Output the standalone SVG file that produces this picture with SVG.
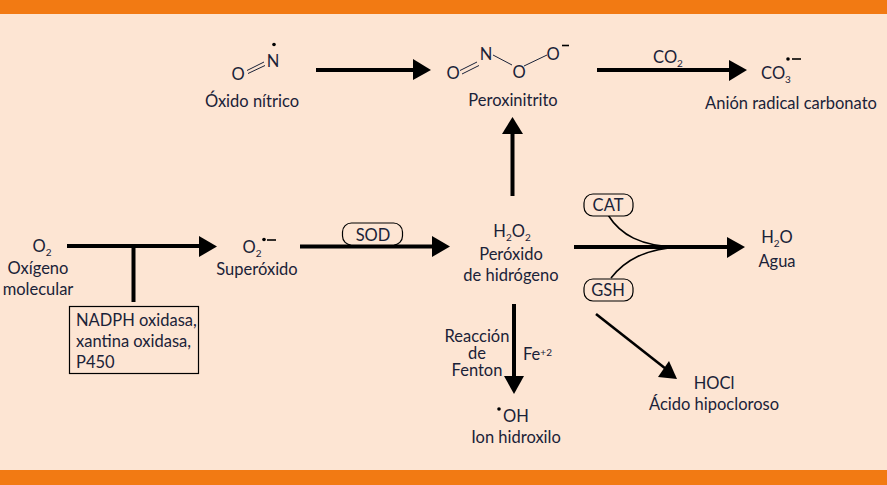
<svg xmlns="http://www.w3.org/2000/svg" width="887" height="485" viewBox="0 0 887 485">
<style>
text{font-family:Lato,"Open Sans","Noto Sans",sans-serif;font-size:16.5px;fill:#1a2238;text-anchor:middle}
.s{font-size:10px}
.l{text-anchor:start}
.a{fill:none;stroke:#000;stroke-width:4}
.d{fill:none;stroke:#000;stroke-width:2.600}
.t{fill:none;stroke:#000;stroke-width:1.600}
.f{fill:none;stroke:#1a2238;stroke-width:1}
.h{fill:#000;stroke:none}
.b{fill:#fde5d3;stroke:#000;stroke-width:1.200}
</style>
<rect width="887" height="485" fill="#fde5d3"/>
<rect width="887" height="14" fill="#f27a13"/>
<rect y="470" width="887" height="15" fill="#f27a13"/>
<g id="connectors">
<path class="a" d="M316 70H415"/><path class="h" d="M413 59L431 70L413 80Z"/>
<path class="a" d="M597 70H730"/><path class="h" d="M729 60L747 70L729 81Z"/>
<path class="a" d="M67 246H202"/><path class="h" d="M199 236L217 246.500L199 257Z"/>
<path class="a" d="M133.500 246V302"/>
<path class="a" d="M300 246.500H435"/><path class="h" d="M432 236L450 246.500L432 257Z"/>
<path class="a" d="M512.500 196V132"/><path class="h" d="M502 134L512.500 117L523 134Z"/>
<path class="a" d="M574 247H730"/><path class="h" d="M727 237L745 247L727 258Z"/>
<path class="t" d="M608 215C620 234 640 247 680 247"/>
<path class="t" d="M611 278C625 260 645 249 680 247"/>
<path class="a" d="M514 304V378"/><path class="h" d="M504 376L514 394L524 376Z"/>
<path class="d" d="M596 314L666 369"/><path class="h" d="M669 361L658 377L677 379Z"/>
<path class="f" d="M247 70.500L264 62M248 73.500L265 65.500"/>
<path class="f" d="M460 70.500L477 62M462 74L479 65.500"/>
<path class="f" d="M493 55L512 65M524 66L547 55"/>
</g>
<g id="oxido-nitrico">
<circle class="h" cx="274" cy="44.500" r="1.800"/>
<text x="273" y="67">N</text><text x="238" y="80">O</text>
<text x="252" y="106.500">Óxido nítrico</text>
</g>
<g id="peroxinitrito">
<text x="453" y="79">O</text><text x="486" y="60">N</text><text x="519" y="78">O</text><text x="553" y="60">O</text>
<path class="t" d="M562 45.500H569"/>
<text x="513" y="106">Peroxinitrito</text>
</g>
<g id="carbonato">
<text x="776" y="79">CO<tspan class="s" dy="4">3</tspan></text>
<circle class="h" cx="788" cy="59" r="1.800"/><path class="t" d="M792 59H801"/>
<text x="791" y="109">Anión radical carbonato</text>
</g>
<g id="co2"><text x="668" y="63">CO<tspan class="s" dy="4">2</tspan></text></g>
<g id="oxigeno">
<text x="42" y="252">O<tspan class="s" dy="4">2</tspan></text>
<text x="38" y="274">Oxígeno</text>
<text x="38" y="295">molecular</text>
</g>
<g id="enzimas"><rect class="b" x="69.500" y="306.500" width="129" height="67"/>
<text class="l" x="76" y="326">NADPH oxidasa,</text>
<text class="l" x="76" y="347">xantina oxidasa,</text>
<text class="l" x="76" y="368">P450</text></g>
<g id="superoxido">
<text x="252" y="253">O<tspan class="s" dy="4">2</tspan></text>
<circle class="h" cx="264" cy="239.500" r="1.800"/><path class="t" d="M267 240H276"/>
<text x="257" y="275">Superóxido</text>
</g>
<g id="sod"><rect class="b" x="342.500" y="223" width="60" height="22" rx="9"/><text x="373" y="241">SOD</text></g>
<g id="peroxido">
<text x="512" y="237">H<tspan class="s" dy="4">2</tspan><tspan dy="-4">O</tspan><tspan class="s" dy="4">2</tspan></text>
<text x="511" y="260">Peróxido</text>
<text x="511" y="281">de hidrógeno</text>
</g>
<g id="cat"><rect class="b" x="584" y="194" width="49" height="22" rx="9"/><text x="608" y="211">CAT</text></g>
<g id="gsh"><rect class="b" x="584" y="279" width="49" height="22" rx="9"/><text x="608" y="296">GSH</text></g>
<g id="agua">
<text x="777" y="243">H<tspan class="s" dy="4">2</tspan><tspan dy="-4">O</tspan></text>
<text x="777" y="267">Agua</text>
</g>
<g id="fenton">
<text><tspan x="477" y="342">Reacción</tspan><tspan x="477" y="359">de</tspan><tspan x="477" y="376">Fenton</tspan></text>
<text class="l" x="523" y="360">Fe<tspan class="s" dy="-4">+2</tspan></text>
</g>
<g id="hidroxilo">
<circle class="h" cx="499" cy="409" r="1.800"/>
<text x="516" y="422">OH</text>
<text x="516" y="443">Ion hidroxilo</text>
</g>
<g id="hipocloroso">
<text x="714" y="389">HOCl</text>
<text x="714" y="410">Ácido hipocloroso</text>
</g>
</svg>
